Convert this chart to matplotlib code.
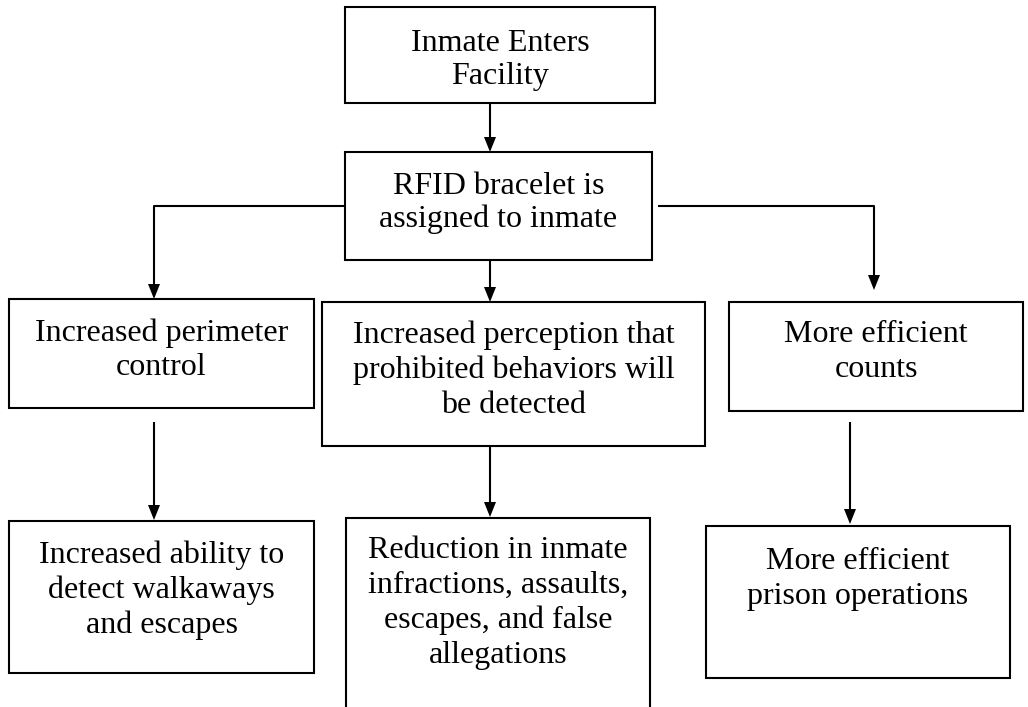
"""
RFID bracelet flowchart: boxes with centred serif text joined by arrows.
"""

import matplotlib.pyplot as plt
from matplotlib.patches import Rectangle

# box texts
box_names = ["enter", "rfid", "perimeter", "perception", "counts",
             "ability", "reduction", "operations"]
box_texts = [
    "Inmate Enters\nFacility",
    "RFID bracelet is\nassigned to inmate",
    "Increased perimeter\ncontrol",
    "Increased perception that\nprohibited behaviors will\nbe detected",
    "More efficient\ncounts",
    "Increased ability to\ndetect walkaways\nand escapes",
    "Reduction in inmate\ninfractions, assaults,\nescapes, and false\nallegations",
    "More efficient\nprison operations",
]

# layout in pixels (x0, y0, x1, y1), y grows downward
box_rects = {
    "enter": (345, 7, 655, 103),
    "rfid": (345, 152, 652, 260),
    "perimeter": (9, 299, 314, 408),
    "perception": (322, 302, 705, 446),
    "counts": (729, 302, 1023, 411),
    "ability": (9, 521, 314, 673),
    "reduction": (346, 518, 650, 712),
    "operations": (706, 526, 1010, 678),
}
text_centers_y = {
    "enter": 60, "rfid": 203, "perimeter": 350, "perception": 370,
    "counts": 352, "ability": 590, "reduction": 603, "operations": 579,
}
line_spacings = {"enter": 1.15, "rfid": 1.12}

# connector paths, last point is the arrow tip
arrow_paths = [
    [(490, 103), (490, 152)],
    [(345, 206), (154, 206), (154, 299)],
    [(658, 206), (874, 206), (874, 290)],
    [(490, 260), (490, 302)],
    [(154, 422), (154, 520)],
    [(490, 446), (490, 517)],
    [(850, 422), (850, 524)],
]

LW = 1.5
HEAD_W = 6
HEAD_L = 15


def draw_arrow(ax, path):
    xs = [p[0] for p in path]
    ys = [p[1] for p in path]
    # stop the line at the base of the head
    x_end, y_end = xs[-1], ys[-1]
    ys_line = ys[:-1] + [y_end - HEAD_L + 2]
    ax.plot(xs, ys_line, color="black", linewidth=LW, solid_capstyle="butt")
    ax.fill(
        [x_end - HEAD_W, x_end + HEAD_W, x_end],
        [y_end - HEAD_L, y_end - HEAD_L, y_end],
        color="black",
        linewidth=0,
    )


def main():
    fig = plt.figure(figsize=(10.28, 7.07), dpi=100)
    ax = fig.add_axes([0, 0, 1, 1])
    ax.set_xlim(0, 1028)
    ax.set_ylim(707, 0)
    ax.axis("off")

    for name, text in zip(box_names, box_texts):
        x0, y0, x1, y1 = box_rects[name]
        ax.add_patch(Rectangle(
            (x0, y0), x1 - x0, y1 - y0,
            facecolor="white",
            edgecolor="black",
            linewidth=LW,
            clip_on=False,
        ))
        ax.text(
            (x0 + x1) / 2,
            text_centers_y[name],
            text,
            ha="center",
            va="center",
            fontsize=23,
            family="Liberation Serif",
            linespacing=line_spacings.get(name, 1.25),
        )

    for path in arrow_paths:
        draw_arrow(ax, path)

    fig.savefig("out.png", dpi=100, facecolor="white")


if __name__ == "__main__":
    main()
